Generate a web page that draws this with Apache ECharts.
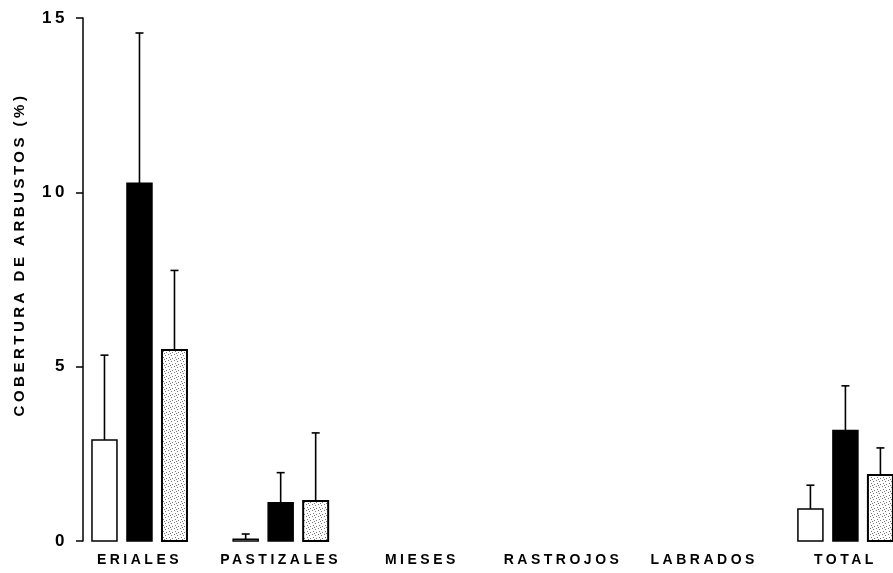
<!DOCTYPE html>
<html><head><meta charset="utf-8">
<script src="https://cdn.jsdelivr.net/npm/echarts@6/dist/echarts.min.js"></script>
<style>html,body{margin:0;padding:0;background:#fff}#chart{width:893px;height:573px}</style>
</head><body><div id="chart"></div>
<script>
const categories = ['ERIALES', 'PASTIZALES', 'MIESES', 'RASTROJOS', 'LABRADOS', 'TOTAL'];
const whiteValues   = [2.9, 0.05, 0, 0, 0, 0.92];
const whiteErrTop   = [5.33, 0.2, 0, 0, 0, 1.6];
const blackValues   = [10.26, 1.1, 0, 0, 0, 3.17];
const blackErrTop   = [14.57, 1.96, 0, 0, 0, 4.45];
const stippleValues = [5.48, 1.15, 0, 0, 0, 1.89];
const stippleErrTop = [7.76, 3.1, 0, 0, 0, 2.67];
const yTicks = [0, 5, 10, 15];
const yTitle = 'COBERTURA DE ARBUSTOS (%)';

// letter-spaced text like the original typesetting
const origFill = CanvasRenderingContext2D.prototype.fillText;
CanvasRenderingContext2D.prototype.fillText = function () { this.letterSpacing = '3.5px'; return origFill.apply(this, arguments); };
const origStroke = CanvasRenderingContext2D.prototype.strokeText;
CanvasRenderingContext2D.prototype.strokeText = function () { this.letterSpacing = '3.5px'; return origStroke.apply(this, arguments); };

// stipple pattern
const pc = document.createElement('canvas'); pc.width = 6; pc.height = 6;
const g = pc.getContext('2d');
g.fillStyle = '#fff'; g.fillRect(0, 0, 6, 6);
g.fillStyle = '#777';
[[0,0],[3,1],[1,3],[4,4],[2,5]].forEach(p => g.fillRect(p[0], p[1], 1, 1));
const stipple = { image: pc, repeat: 'repeat' };

const BAR_W = 25, OFFSET = 35, CAP_W = 8;
function makeSeries(name, values, errTop, pos, fill, stroke, lw) {
  return {
    name, type: 'custom', clip: false,
    data: values.map((v, i) => [i, v, errTop[i]]),
    encode: { x: 0, y: [1, 2] },
    renderItem(params, api) {
      const i = api.value(0), v = api.value(1), e = api.value(2);
      if (v <= 0 && e <= 0) return;
      const base = api.coord([i, 0]);
      const top = api.coord([i, v]);
      const ep = api.coord([i, e]);
      const cx = base[0] + pos * OFFSET;
      const children = [{
        type: 'rect',
        shape: { x: cx - BAR_W / 2, y: top[1], width: BAR_W, height: base[1] - top[1] },
        style: { fill, stroke, lineWidth: lw }
      }];
      if (e > v) {
        children.push({ type: 'line', shape: { x1: cx, y1: top[1], x2: cx, y2: ep[1] }, style: { stroke: '#000', lineWidth: 1.6 } });
        children.push({ type: 'line', shape: { x1: cx - CAP_W / 2, y1: ep[1], x2: cx + CAP_W / 2, y2: ep[1] }, style: { stroke: '#000', lineWidth: 1.6 } });
      }
      return { type: 'group', children };
    }
  };
}

const chart = echarts.init(document.getElementById('chart'), null, { renderer: 'canvas' });
const font = 'Liberation Sans';
chart.setOption({
  animation: false,
  backgroundColor: '#fff',
  grid: { left: 83, right: 0, top: 18, bottom: 32, containLabel: false, outerBoundsMode: 'none' },
  xAxis: {
    type: 'value', min: -0.4, max: 5.337, interval: 0.2,
    axisLine: { show: false, onZero: false }, axisTick: { show: false }, splitLine: { show: false },
    axisLabel: {
      margin: 12, color: '#000', fontSize: 14, fontWeight: 'bold', fontFamily: font, hideOverlap: false,
      formatter: v => { const i = Math.round(v); return (Math.abs(v - i) < 1e-6 && i >= 0 && i < categories.length) ? categories[i] : ''; }
    }
  },
  yAxis: {
    type: 'value', min: yTicks[0], max: yTicks[yTicks.length - 1], interval: yTicks[1] - yTicks[0],
    axisLine: { show: true, onZero: false, lineStyle: { color: '#000', width: 1.5 } },
    axisTick: { show: true, length: 7, lineStyle: { color: '#000', width: 1.5 } },
    splitLine: { show: false },
    axisLabel: { color: '#000', fontSize: 17, fontWeight: 'bold', fontFamily: font, margin: 15 },
    name: yTitle, nameLocation: 'middle', nameRotate: 90, nameGap: 56,
    nameTextStyle: { color: '#000', fontSize: 15, fontWeight: 'bold', fontFamily: font, padding: [0, 0, 0, 50] }
  },
  series: [
    makeSeries('white', whiteValues, whiteErrTop, -1, '#fff', '#000', 1.5),
    makeSeries('black', blackValues, blackErrTop, 0, '#000', '#000', 1.5),
    makeSeries('stipple', stippleValues, stippleErrTop, 1, stipple, '#000', 2)
  ]
});
</script></body></html>
